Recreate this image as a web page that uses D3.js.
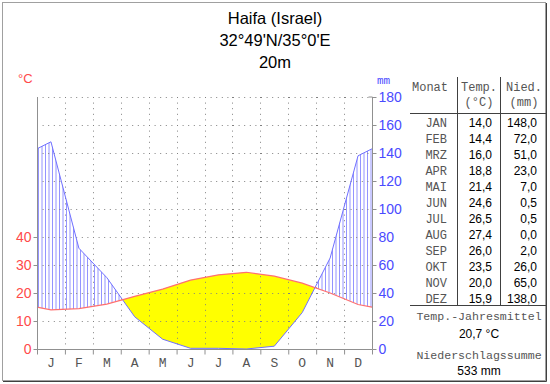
<!doctype html>
<html>
  <head>
    <meta charset="utf-8">
    <title>Klimadiagramm Haifa</title>
    <script src="https://cdn.jsdelivr.net/npm/d3@7"></script>
    <style>
      body { margin: 0; background: #fff; }
      svg { display: block; }
      .sans { font-family: "Liberation Sans", Arial, sans-serif; }
      .mono { font-family: "Liberation Mono", "Courier New", monospace; }
    </style>
  </head>
  <body>
    <svg id="chart" width="550" height="384"></svg>
<script>
var months = ['J', 'F', 'M', 'A', 'M', 'J', 'J', 'A', 'S', 'O', 'N', 'D'];
var monthNames = ['JAN', 'FEB', 'MRZ', 'APR', 'MAI', 'JUN', 'JUL', 'AUG', 'SEP', 'OKT', 'NOV', 'DEZ'];
var temp = [14.0, 14.4, 16.0, 18.8, 21.4, 24.6, 26.5, 27.4, 26.0, 23.5, 20.0, 15.9];
var precip = [148.0, 72.0, 51.0, 23.0, 7.0, 0.5, 0.5, 0.0, 2.0, 26.0, 65.0, 138.0];
var tempTicks = [0, 10, 20, 30, 40];
var precipTicks = [0, 20, 40, 60, 80, 100, 120, 140, 160, 180];
var title = ['Haifa (Israel)', "32°49'N/35°0'E", '20m'];

var svg = d3.select('#chart');
var pLeft = 37, pRight = 372, pTop = 97, pBottom = 349;

var x = d3.scaleLinear().domain([0, 12]).range([pLeft, pRight]);
var yT = d3.scaleLinear().domain([0, 90]).range([pBottom, pTop]);
var yP = d3.scaleLinear().domain([0, 180]).range([pBottom, pTop]);

var comma = function(v) { return d3.format('.1f')(v).replace('.', ','); };

// month midpoints, with the year wrapped onto both edges
var edgeT = (temp[11] + temp[0]) / 2, edgeP = (precip[11] + precip[0]) / 2;
var pts = [{ m: 0, t: edgeT, p: edgeP }];
temp.forEach(function(t, i) { pts.push({ m: i + 0.5, t: t, p: precip[i] }); });
pts.push({ m: 12, t: edgeT, p: edgeP });

// outer frame
svg.append('rect').attr('x', 2.5).attr('y', 2.5).attr('width', 543).attr('height', 378)
  .attr('fill', 'none').attr('stroke', '#a0a0a0');
svg.append('path').attr('d', 'M3,381.5H546.5V3').attr('fill', 'none').attr('stroke', '#404040');

// title
svg.selectAll('text.title').data(title).enter().append('text')
  .attr('class', 'title sans')
  .attr('x', 275).attr('y', function(d, i) { return 24 + i * 22; })
  .attr('text-anchor', 'middle').attr('font-size', 16.5).attr('fill', '#000')
  .text(function(d) { return d; });

var defs = svg.append('defs');
var areaBelow = function(acc, ys) {
  return d3.area().x(function(d) { return x(d.m); }).y0(pBottom).y1(function(d) { return ys(d[acc]); })(pts);
};
var areaAbove = function(acc, ys) {
  return d3.area().x(function(d) { return x(d.m); }).y0(pTop).y1(function(d) { return ys(d[acc]); })(pts);
};
defs.append('clipPath').attr('id', 'abovePrecip').append('path').attr('d', areaAbove('p', yP));
defs.append('clipPath').attr('id', 'belowPrecip').append('path').attr('d', areaBelow('p', yP));
defs.append('clipPath').attr('id', 'aboveTemp').append('path').attr('d', areaAbove('t', yT));

// arid period: below temperature, above precipitation
svg.append('g').attr('clip-path', 'url(#abovePrecip)')
  .append('path').attr('d', areaBelow('t', yT)).attr('fill', '#ffff00');

// humid period: vertical hatching
var hatch = svg.append('g').attr('clip-path', 'url(#belowPrecip)')
  .append('g').attr('clip-path', 'url(#aboveTemp)');
hatch.selectAll('line').data(d3.range(pLeft + 1.5, pRight, 3.5)).enter().append('line')
  .attr('x1', function(d) { return d; }).attr('x2', function(d) { return d; })
  .attr('y1', pTop).attr('y2', pBottom)
  .attr('stroke', '#9494ff').attr('stroke-width', 1);

// grid
var grid = svg.append('g').attr('stroke', '#808080').attr('stroke-dasharray', '1,4.6');
grid.selectAll('line.h').data(d3.range(10, 91, 10)).enter().append('line')
  .attr('x1', pLeft).attr('x2', pRight)
  .attr('y1', function(d) { return Math.round(yT(d)) + 0.5; })
  .attr('y2', function(d) { return Math.round(yT(d)) + 0.5; });
grid.selectAll('line.v').data(d3.range(1, 12)).enter().append('line')
  .attr('y1', pTop).attr('y2', pBottom)
  .attr('x1', function(d) { return Math.round(x(d)) + 0.5; })
  .attr('x2', function(d) { return Math.round(x(d)) + 0.5; });

// curves
svg.append('path').datum(pts)
  .attr('d', d3.line().x(function(d) { return x(d.m); }).y(function(d) { return yP(d.p); }))
  .attr('fill', 'none').attr('stroke', '#7070ff').attr('stroke-width', 1);
svg.append('path').datum(pts)
  .attr('d', d3.line().x(function(d) { return x(d.m); }).y(function(d) { return yT(d.t); }))
  .attr('fill', 'none').attr('stroke', '#ff7070').attr('stroke-width', 1.2);

// axes
var axisCol = '#909090';
svg.append('g').attr('transform', 'translate(' + (pLeft + 0.5) + ',0)')
  .call(d3.axisLeft(yT).tickValues(tempTicks).tickSize(4).tickFormat(d3.format('d')))
  .call(function(g) {
    g.select('.domain').attr('d', 'M0,' + pTop + 'V' + (pBottom + 0.5)).attr('stroke', axisCol);
    g.selectAll('.tick line').attr('stroke', axisCol);
    g.selectAll('.tick text').attr('class', 'sans').attr('fill', '#ff4a4a')
      .attr('font-size', 14).attr('x', -6);
  });
svg.append('g').attr('transform', 'translate(' + (pRight + 0.5) + ',0)')
  .call(d3.axisRight(yP).tickValues(precipTicks).tickSize(4).tickFormat(d3.format('d')))
  .call(function(g) {
    g.select('.domain').attr('d', 'M-4,' + pTop + 'H0V' + (pBottom + 0.5)).attr('stroke', axisCol);
    g.selectAll('.tick line').attr('stroke', axisCol);
    g.selectAll('.tick text').attr('class', 'sans').attr('fill', '#4a4aff')
      .attr('font-size', 14).attr('x', 6);
  });
svg.append('g').attr('transform', 'translate(0,' + (pBottom + 0.5) + ')')
  .call(d3.axisBottom(x).tickValues(d3.range(0, 13)).tickSize(5).tickFormat(''))
  .call(function(g) {
    g.select('.domain').attr('d', 'M' + pLeft + ',0H' + pRight).attr('stroke', axisCol);
    g.selectAll('.tick line').attr('stroke', axisCol);
  });
svg.selectAll('text.month').data(months).enter().append('text')
  .attr('class', 'month mono')
  .attr('x', function(d, i) { return x(i + 0.5); }).attr('y', 367)
  .attr('text-anchor', 'middle').attr('font-size', 13).attr('fill', '#555')
  .text(function(d) { return d; });

svg.append('text').attr('class', 'sans').attr('x', 18).attr('y', 83)
  .attr('font-size', 13).attr('fill', '#ff4a4a').text('°C');
svg.append('text').attr('class', 'mono').attr('x', 377).attr('y', 84)
  .attr('font-size', 11).attr('fill', '#4a4aff').text('mm');

// table
var tbl = svg.append('g');
var lineCol = '#404040';
tbl.append('line').attr('x1', 457.5).attr('x2', 457.5).attr('y1', 77).attr('y2', 306).attr('stroke', lineCol);
tbl.append('line').attr('x1', 500.5).attr('x2', 500.5).attr('y1', 77).attr('y2', 306).attr('stroke', lineCol);
tbl.append('line').attr('x1', 410).attr('x2', 546).attr('y1', 113.5).attr('y2', 113.5).attr('stroke', lineCol);
tbl.append('line').attr('x1', 410).attr('x2', 546).attr('y1', 305.5).attr('y2', 305.5).attr('stroke', lineCol);

var hdr = [['Monat', 430, 91], ['Temp.', 479, 91], ['(°C)', 479, 106], ['Nied.', 524, 91], ['(mm)', 524, 106]];
tbl.selectAll('text.hdr').data(hdr).enter().append('text')
  .attr('class', 'hdr mono').attr('x', function(d) { return d[1]; }).attr('y', function(d) { return d[2]; })
  .attr('text-anchor', 'middle').attr('font-size', 12).attr('fill', '#555')
  .text(function(d) { return d[0]; });

var rowY = function(i) { return 127 + i * 16; };
tbl.selectAll('text.mn').data(monthNames).enter().append('text')
  .attr('class', 'mn mono').attr('x', 447).attr('y', function(d, i) { return rowY(i); })
  .attr('text-anchor', 'end').attr('font-size', 12).attr('fill', '#555')
  .text(function(d) { return d; });
tbl.selectAll('text.tv').data(temp).enter().append('text')
  .attr('class', 'tv sans').attr('x', 492).attr('y', function(d, i) { return rowY(i); })
  .attr('text-anchor', 'end').attr('font-size', 12).attr('fill', '#000')
  .text(comma);
tbl.selectAll('text.pv').data(precip).enter().append('text')
  .attr('class', 'pv sans').attr('x', 537).attr('y', function(d, i) { return rowY(i); })
  .attr('text-anchor', 'end').attr('font-size', 12).attr('fill', '#000')
  .text(comma);

var meanT = d3.mean(temp), sumP = d3.sum(precip);
var foot = [
  ['Temp.-Jahresmittel', 320, 'mono'],
  [comma(meanT) + ' °C', 338, 'sans'],
  ['Niederschlagssumme', 359, 'mono'],
  [d3.format('d')(sumP) + ' mm', 375, 'sans']
];
tbl.selectAll('text.foot').data(foot).enter().append('text')
  .attr('class', function(d) { return 'foot ' + d[2]; })
  .attr('x', 479).attr('y', function(d) { return d[1]; })
  .attr('text-anchor', 'middle').attr('font-size', function(d) { return d[2] === 'mono' ? 11.6 : 12; })
  .attr('fill', function(d) { return d[2] === 'mono' ? '#555' : '#000'; })
  .text(function(d) { return d[0]; });
</script>
  </body>
</html>
